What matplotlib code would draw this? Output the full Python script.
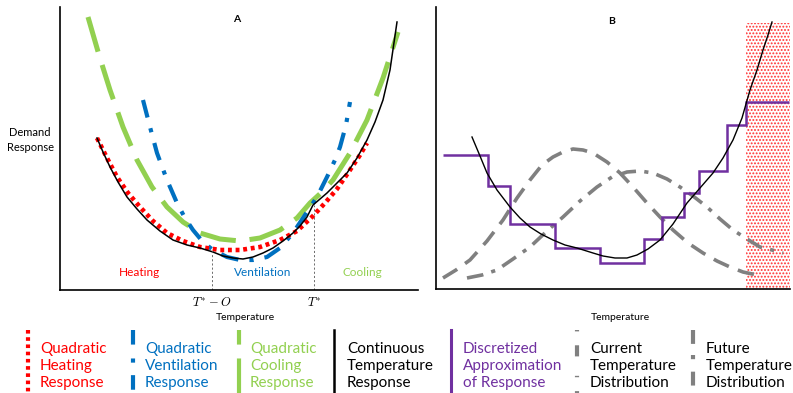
import numpy as np
import matplotlib
matplotlib.use('Agg')
import matplotlib.pyplot as plt
from matplotlib.lines import Line2D

plt.rcParams['font.family'] = ['Lato', 'DejaVu Sans']
plt.rcParams['mathtext.fontset'] = 'cm'
plt.rcParams['lines.scale_dashes'] = False
plt.rcParams['hatch.linewidth'] = 0.9
plt.rcParams['hatch.color'] = '#ff3030'

RED = '#ff0000'
BLUE = '#0070c0'
GREEN = '#92d050'
PURPLE = '#7030a0'
GRAY = '#808080'

# ---- panel A data (temperature, response) ----
heat_x = [97, 107, 117, 128, 140, 153, 167, 183, 200, 220, 240, 260, 280, 297, 313, 325, 337, 350, 360, 367]
heat_y = [152, 132, 113, 97, 83, 69, 57, 49, 43, 40, 40, 43, 50, 59, 74, 87, 101, 120, 135, 147]

vent_x = [143, 150, 157, 167, 177, 185, 193, 203, 213, 227, 240, 253, 267, 280, 293, 305, 317, 327, 335, 340, 346, 350]
vent_y = [190, 163, 137, 110, 87, 72, 60, 48, 40, 33, 30, 30, 33, 42, 57, 75, 93, 113, 130, 143, 165, 188]

cool_x = [88, 99, 110, 123, 137, 152, 167, 183, 200, 220, 240, 260, 280, 297, 310, 322, 333, 350, 367, 383, 398]
cool_y = [273, 235, 200, 163, 130, 103, 83, 68, 57, 51, 49, 52, 60, 72, 87, 98, 110, 137, 170, 212, 258]

cont_x = [97, 103, 110, 118, 127, 137, 147, 160, 173, 187, 200, 213, 223, 233, 243, 253, 263, 273, 283,
          293, 300, 307, 313, 320, 327, 337, 347, 357, 367, 375, 383, 390, 397]
cont_y = [152, 138, 123, 108, 93, 81, 70, 59, 50, 45, 42, 38, 34, 32, 31, 33, 37, 42, 49,
          57, 64, 73, 85, 91, 97, 107, 117, 132, 150, 168, 190, 220, 268]

t_lo, t_hi = 212, 314          # T*-O and T*
t_lo_y, t_hi_y = 40, 85

# ---- panel B data ----
contB_x = [472, 480, 487, 497, 510, 520, 530, 541, 553, 565, 577, 593, 603, 615, 627, 637, 648, 660,
           673, 687, 700, 713, 723, 733, 742, 750, 757, 763, 768, 772]
contB_y = [152, 133, 116, 99, 82, 71, 62, 55, 49, 44, 41, 36, 33, 31, 31, 34, 40, 49,
           65, 86, 101, 116, 131, 149, 171, 199, 219, 239, 254, 267]

step_edges = [443, 488, 510, 555, 600, 644, 662, 684, 699, 727, 746, 789]
step_vals = [134, 103, 65, 41, 26, 50, 72, 96, 118, 164, 187]

cur_x = [443, 456, 470, 487, 503, 517, 530, 542, 553, 563, 573, 583, 593, 607, 620, 633, 647, 660, 673, 688, 703, 717, 730, 743, 757]
cur_y = [11, 19, 29, 48, 69, 91, 109, 124, 132, 137, 140, 139, 136, 127, 116, 102, 86, 72, 59, 46, 36, 28, 22, 17, 14]

fut_x = [467, 482, 497, 513, 530, 547, 563, 580, 597, 612, 627, 640, 653, 667, 680, 693, 707, 720, 733, 747, 760, 772, 783]
fut_y = [11, 14, 19, 30, 42, 58, 72, 88, 102, 112, 117, 118, 116, 110, 102, 93, 82, 70, 59, 50, 42, 39, 36]

hot_lo, hot_hi, hot_top = 746, 790, 266

W, H = 793, 393
fig = plt.figure(figsize=(W / 100, H / 100), dpi=100)


def px_axes(x0, y0, x1, y1):
    return fig.add_axes([x0 / W, 1 - y1 / H, (x1 - x0) / W, (y1 - y0) / H])


def style(ax):
    for s in ['top', 'right']:
        ax.spines[s].set_visible(False)
    for s in ['left', 'bottom']:
        ax.spines[s].set_linewidth(1.2)
    ax.set_xticks([])
    ax.set_yticks([])


# ---- panel A ----
axA = px_axes(60, 7, 418, 290)
axA.set_xlim(60, 418)
axA.set_ylim(0, 283)
style(axA)
axA.plot(cool_x, cool_y, color=GREEN, lw=3.6, linestyle=(0, (26, 10)), dash_capstyle='butt')
axA.plot(vent_x, vent_y, color=BLUE, lw=3.0, linestyle=(0, (13, 8, 3, 8)), dash_capstyle='butt')
axA.plot(heat_x, heat_y, color=RED, lw=3.3, linestyle=(0, (2.8, 2.7)), dash_capstyle='butt')
axA.plot(cont_x, cont_y, color='black', lw=1.1)
axA.plot([t_lo, t_lo], [0, t_lo_y], color='#555555', lw=0.6, linestyle=(0, (1.5, 1.5)))
axA.plot([t_hi, t_hi], [0, t_hi_y], color='#555555', lw=0.6, linestyle=(0, (1.5, 1.5)))
axA.text(140, 18, 'Heating', color=RED, fontsize=8.5, ha='center', va='center')
axA.text(263, 18, 'Ventilation', color=BLUE, fontsize=8.5, ha='center', va='center')
axA.text(362, 18, 'Cooling', color=GREEN, fontsize=8.5, ha='center', va='center')
axA.text(237, 271, 'A', fontsize=7.5, fontweight='bold', ha='center', va='center')
axA.text(t_lo, -12, r'$T^{*}-O$', fontsize=9, ha='center', va='center')
axA.text(t_hi, -12, r'$T^{*}$', fontsize=9, ha='center', va='center')
axA.text(245, -27, 'Temperature', fontsize=7.5, ha='center', va='center')
fig.text(30 / W, 1 - 140 / H, 'Demand\nResponse', fontsize=8, ha='center', va='center', linespacing=1.5)

# ---- panel B ----
axB = px_axes(436, 7, 790, 289)
axB.set_xlim(436, 790)
axB.set_ylim(0, 282)
style(axB)
axB.fill_between([hot_lo, hot_hi], 0, hot_top, facecolor='white', edgecolor='none', hatch='.....', zorder=1)
axB.plot(cur_x, cur_y, color=GRAY, lw=2.6, linestyle=(0, (12, 7)), zorder=2)
axB.plot(fut_x, fut_y, color=GRAY, lw=2.6, linestyle=(0, (12, 6, 3, 6)), zorder=2)
axB.stairs(step_vals, step_edges, color=PURPLE, lw=1.8, baseline=None, zorder=3)
axB.plot(contB_x, contB_y, color='black', lw=1.0, zorder=4)
axB.text(612, 267, 'B', fontsize=7.5, fontweight='bold', ha='center', va='center')
axB.text(620, -28, 'Temperature', fontsize=7.5, ha='center', va='center')

# ---- legend strip ----
leg = fig.add_axes([0, 0, 1, 1])
leg.set_xlim(0, W)
leg.set_ylim(H, 0)
leg.axis('off')
leg.patch.set_alpha(0)

entries = [
    (28, 40, RED, 'Quadratic\nHeating\nResponse', dict(lw=3.0, linestyle=(0, (2.6, 2.6)))),
    (133, 145, BLUE, 'Quadratic\nVentilation\nResponse', dict(lw=3.0, linestyle=(0, (10.5, 10, 3, 9)))),
    (239, 250, GREEN, 'Quadratic\nCooling\nResponse', dict(lw=3.0, linestyle=(0, (10.5, 10, 40, 5)))),
    (334, 347, 'black', 'Continuous\nTemperature\nResponse', dict(lw=1.8, linestyle='-')),
    (451, 463, PURPLE, 'Discretized\nApproximation\nof Response', dict(lw=2.2, linestyle='-')),
    (577, 590, GRAY, 'Current\nTemperature\nDistribution', dict(lw=3.0, linestyle=(0, (1, 10, 8, 14)))),
    (693, 706, GRAY, 'Future\nTemperature\nDistribution', dict(lw=3.0, linestyle=(0, (10, 8, 3, 9)))),
]
for lx, tx, col, label, kw in entries:
    leg.add_line(Line2D([lx, lx], [330, 393], color=col, dash_capstyle='butt', **kw))
    tcol = 'black' if col == GRAY else col
    leg.text(tx, 366, label, color=tcol, fontsize=11, ha='left', va='center', linespacing=1.25)

fig.savefig('out.png', dpi=100)
